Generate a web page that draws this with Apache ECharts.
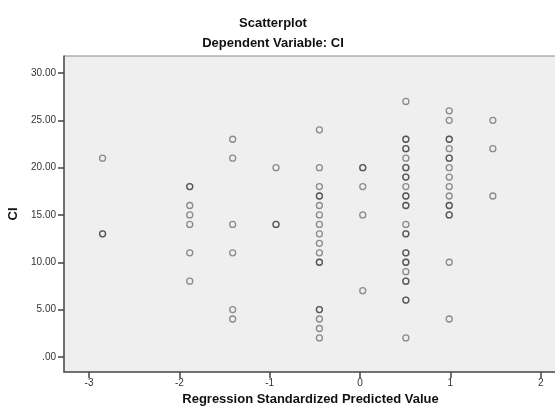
<!DOCTYPE html>
<html><head><meta charset="utf-8">
<script src="https://cdn.jsdelivr.net/npm/echarts@6/dist/echarts.min.js"></script>
<style>html,body{margin:0;padding:0;background:#fff}#c{width:555px;height:409px}</style>
</head><body><div id="c"></div>
<script>
// Regression standardized predicted value (one per column of points)
const predicted = [-2.85, -1.885, -1.41, -0.93, -0.45, 0.03, 0.507, 0.987, 1.47];
// CI values observed at each predicted value (repeats = overlapping cases)
const ciCol1 = [21, 13, 13];
const ciCol2 = [18, 18, 16, 15, 14, 11, 8];
const ciCol3 = [23, 21, 14, 11, 5, 4];
const ciCol4 = [20, 14, 14];
const ciCol5 = [24, 20, 18, 17, 17, 16, 15, 14, 13, 12, 11, 10, 10, 5, 5, 4, 3, 2];
const ciCol6 = [20, 20, 18, 15, 7];
const ciCol7 = [27, 23, 23, 22, 22, 21, 20, 20, 19, 19, 18, 17, 17, 16, 16, 14, 13, 13, 11, 11, 10, 10, 9, 8, 8, 6, 6, 2];
const ciCol8 = [26, 25, 23, 23, 22, 21, 21, 20, 19, 18, 17, 16, 16, 15, 15, 10, 4];
const ciCol9 = [25, 22, 17];
const ciColumns = [ciCol1, ciCol2, ciCol3, ciCol4, ciCol5, ciCol6, ciCol7, ciCol8, ciCol9];
const xTicks = [-3, -2, -1, 0, 1, 2];
const yTicks = [0, 5, 10, 15, 20, 25, 30];

const points = [];
ciColumns.forEach((col, i) => col.forEach(v => points.push([predicted[i], v])));

const chart = echarts.init(document.getElementById('c'), null, {renderer: 'canvas'});
const font = 'Arial, "Liberation Sans", sans-serif';
chart.setOption({
  animation: false,
  backgroundColor: '#ffffff',
  title: [
    {text: 'Scatterplot', left: 268, top: 12, textAlign: 'center',
     textStyle: {fontFamily: font, fontSize: 13, fontWeight: 'bold', color: '#111'}},
    {text: 'Dependent Variable: CI', left: 268, top: 32, textAlign: 'center',
     textStyle: {fontFamily: font, fontSize: 13, fontWeight: 'bold', color: '#111'}}
  ],
  grid: {left: 64, right: -2, top: 56, bottom: 37, show: true, containLabel: false,
         outerBoundsMode: 'none',
         backgroundColor: '#efefef', borderColor: '#8a8a8a', borderWidth: 1},
  xAxis: {
    type: 'value', min: -3.277, max: 2.18,
    name: 'Regression Standardized Predicted Value', nameLocation: 'middle', nameGap: 19,
    nameTextStyle: {fontFamily: font, fontSize: 13, fontWeight: 'bold', color: '#111'},
    axisLine: {onZero: false, lineStyle: {color: '#555', width: 1.5}},
    axisTick: {show: true, length: 6, customValues: xTicks, lineStyle: {color: '#444', width: 1.5}},
    axisLabel: {customValues: xTicks, margin: 6, fontFamily: font, fontSize: 10, color: '#333',
                formatter: v => String(v)},
    splitLine: {show: false}
  },
  yAxis: {
    type: 'value', min: -1.6, max: 31.8,
    name: 'CI', nameLocation: 'middle', nameGap: 44, nameRotate: 90,
    nameTextStyle: {fontFamily: font, fontSize: 13, fontWeight: 'bold', color: '#111'},
    axisLine: {onZero: false, lineStyle: {color: '#555', width: 1.5}},
    axisTick: {show: true, length: 6, customValues: yTicks, lineStyle: {color: '#444', width: 1.5}},
    axisLabel: {customValues: yTicks, margin: 8, fontFamily: font, fontSize: 10, color: '#333',
                formatter: v => v === 0 ? '.00' : v.toFixed(2)},
    splitLine: {show: false}
  },
  series: [{
    type: 'scatter', data: points, symbol: 'circle', symbolSize: 6,
    itemStyle: {color: 'rgba(0,0,0,0)', borderColor: 'rgba(30,30,30,0.6)', borderWidth: 1.3}
  }]
});
</script></body></html>
